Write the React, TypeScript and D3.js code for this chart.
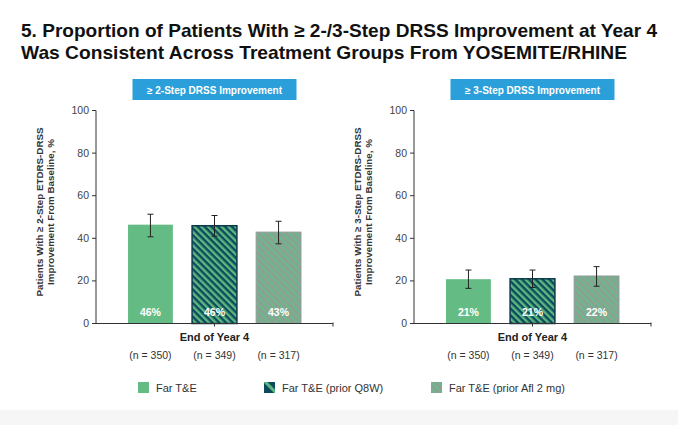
import React from "react";
import * as d3 from "d3";

const titleLines = [
  "5. Proportion of Patients With \u2265 2-/3-Step DRSS Improvement at Year 4",
  "Was Consistent Across Treatment Groups From YOSEMITE/RHINE",
];

const groups = ["Far T&E", "Far T&E (prior Q8W)", "Far T&E (prior Afl 2 mg)"];
const nCounts = [350, 349, 317];

const twoStepValues = [46.4, 45.9, 42.9];
const twoStepLow = [40.7, 41.0, 37.4];
const twoStepHigh = [51.3, 50.7, 48.0];
const twoStepLabels = ["46%", "46%", "43%"];

const threeStepValues = [20.8, 21.0, 22.3];
const threeStepLow = [16.5, 16.9, 17.5];
const threeStepHigh = [25.1, 25.1, 26.7];
const threeStepLabels = ["21%", "21%", "22%"];

const yTicks = [0, 20, 40, 60, 80, 100];

const FONT = "'Liberation Sans', Arial, Helvetica, sans-serif";
const GREEN = "#64bc84";
const fills = [GREEN, "url(#hatchDark)", "url(#hatchGray)"];
const strokes = ["none", "#0a3b4d", "#8f9c97"];

const W = 678;
const H = 425;

function Panel({ x0, header, labelLines, values, low, high, labels }) {
  const y = d3.scaleLinear().domain([0, 100]).range([323.5, 110.5]);
  const x = d3
    .scaleBand()
    .domain(groups)
    .range([x0, x0 + 237])
    .paddingInner(0.3)
    .paddingOuter(0.5);
  const mid = x0 + 237 / 2;
  const y0 = y(0);

  return (
    <g>
      {/* header box */}
      <rect x={mid - 82} y={79} width={164} height={21} fill="#2a9fd9" />
      <text
        x={mid}
        y={93.5}
        textAnchor="middle"
        fill="#fff"
        fontSize={10}
        fontWeight="bold"
        fontFamily={FONT}
      >
        {header}
      </text>

      {/* y axis label */}
      <text
        transform={`translate(${x0 - 53},${212}) rotate(-90)`}
        textAnchor="middle"
        fontSize={9.8}
        fontWeight="bold"
        fill="#333"
        fontFamily={FONT}
      >
        <tspan x={0} dy={0}>{labelLines[0]}</tspan>
        <tspan x={0} dy={10.5}>{labelLines[1]}</tspan>
      </text>

      {/* bars */}
      {groups.map((g, i) => (
        <g key={g}>
          <rect
            x={x(g)}
            y={y(values[i])}
            width={x.bandwidth()}
            height={y0 - y(values[i])}
            fill={fills[i]}
            stroke={strokes[i]}
            strokeWidth={i === 1 ? 1.5 : 1}
          />
          <text
            x={x(g) + x.bandwidth() / 2}
            y={y0 - 7.5}
            textAnchor="middle"
            fill="#fff"
            fontSize={10.5}
            fontWeight="bold"
            fontFamily={FONT}
          >
            {labels[i]}
          </text>
          {/* error bar */}
          <g stroke="#222" strokeWidth={1}>
            <line
              x1={x(g) + x.bandwidth() / 2}
              x2={x(g) + x.bandwidth() / 2}
              y1={y(low[i])}
              y2={y(high[i])}
            />
            <line
              x1={x(g) + x.bandwidth() / 2 - 3}
              x2={x(g) + x.bandwidth() / 2 + 3}
              y1={y(low[i])}
              y2={y(low[i])}
            />
            <line
              x1={x(g) + x.bandwidth() / 2 - 3}
              x2={x(g) + x.bandwidth() / 2 + 3}
              y1={y(high[i])}
              y2={y(high[i])}
            />
          </g>
          <text
            x={x(g) + x.bandwidth() / 2}
            y={359}
            textAnchor="middle"
            fill="#333"
            fontSize={10.5}
            fontFamily={FONT}
          >
            {`(n = ${nCounts[i]})`}
          </text>
        </g>
      ))}

      {/* y axis */}
      <line x1={x0} x2={x0} y1={y(100)} y2={y0} stroke="#333" strokeWidth={1} />
      {yTicks.map((t) => (
        <g key={t}>
          <line x1={x0 - 4} x2={x0} y1={y(t)} y2={y(t)} stroke="#333" strokeWidth={1} />
          <text
            x={x0 - 7}
            y={y(t) + 3.5}
            textAnchor="end"
            fontSize={10.5}
            fill="#444"
            fontFamily={FONT}
          >
            {t}
          </text>
        </g>
      ))}

      {/* x axis */}
      <line x1={x0 - 4} x2={x0 + 237} y1={y0} y2={y0} stroke="#333" strokeWidth={1} />
      <line x1={mid} x2={mid} y1={y0} y2={y0 + 3} stroke="#333" strokeWidth={1} />
      <line x1={x0 + 237} x2={x0 + 237} y1={y0 - 1} y2={y0 + 3} stroke="#333" strokeWidth={1} />
      <text
        x={mid}
        y={341}
        textAnchor="middle"
        fontSize={11}
        fontWeight="bold"
        fill="#222"
        fontFamily={FONT}
      >
        End of Year 4
      </text>
    </g>
  );
}

export default function App() {
  const legendX = [138, 264, 431];
  return (
    <svg
      width={W}
      height={H}
      style={{ position: "absolute", left: 0, top: 0 }}
      fontFamily={FONT}
    >
      <defs>
        <pattern
          id="hatchDark"
          patternUnits="userSpaceOnUse"
          width={4.8}
          height={4.8}
          patternTransform="rotate(-45)"
        >
          <rect width={4.8} height={4.8} fill="#0c4a5c" />
          <rect width={2.4} height={4.8} fill="#5db880" />
        </pattern>
        <pattern
          id="hatchGray"
          patternUnits="userSpaceOnUse"
          width={4.8}
          height={4.8}
          patternTransform="rotate(-45)"
        >
          <rect width={4.8} height={4.8} fill="#8f9d97" />
          <rect width={2.4} height={4.8} fill="#6db889" />
        </pattern>
        <pattern
          id="legendDark"
          patternUnits="userSpaceOnUse"
          width={11}
          height={11}
          patternTransform="rotate(-45)"
        >
          <rect width={11} height={11} fill="#0c4a5c" />
          <rect x={4} width={3} height={11} fill="#5db880" />
        </pattern>
      </defs>
      <rect width={W} height={H} fill="#fff" />
      <rect y={410} width={W} height={15} fill="#f6f6f6" />

      {titleLines.map((t, i) => (
        <text
          key={i}
          x={21}
          y={37 + i * 21.5}
          fontSize={18.5}
          fontWeight="bold"
          fill="#111"
          fontFamily={FONT}
          textLength={i === 0 ? 636 : 606}
          lengthAdjust="spacingAndGlyphs"
        >
          {t}
        </text>
      ))}

      <Panel
        x0={96}
        header={"\u2265 2-Step DRSS Improvement"}
        labelLines={["Patients With \u2265 2-Step ETDRS-DRSS", "Improvement From Baseline, %"]}
        values={twoStepValues}
        low={twoStepLow}
        high={twoStepHigh}
        labels={twoStepLabels}
      />
      <Panel
        x0={414}
        header={"\u2265 3-Step DRSS Improvement"}
        labelLines={["Patients With \u2265 3-Step ETDRS-DRSS", "Improvement From Baseline, %"]}
        values={threeStepValues}
        low={threeStepLow}
        high={threeStepHigh}
        labels={threeStepLabels}
      />

      {groups.map((g, i) => (
        <g key={g}>
          <rect
            x={legendX[i]}
            y={382}
            width={11}
            height={11}
            fill={i === 0 ? GREEN : i === 1 ? "url(#legendDark)" : "url(#hatchGray)"}
          />
          <text
            x={legendX[i] + 18}
            y={391.5}
            fontSize={11}
            fill="#333"
            fontFamily={FONT}
          >
            {g}
          </text>
        </g>
      ))}
    </svg>
  );
}
